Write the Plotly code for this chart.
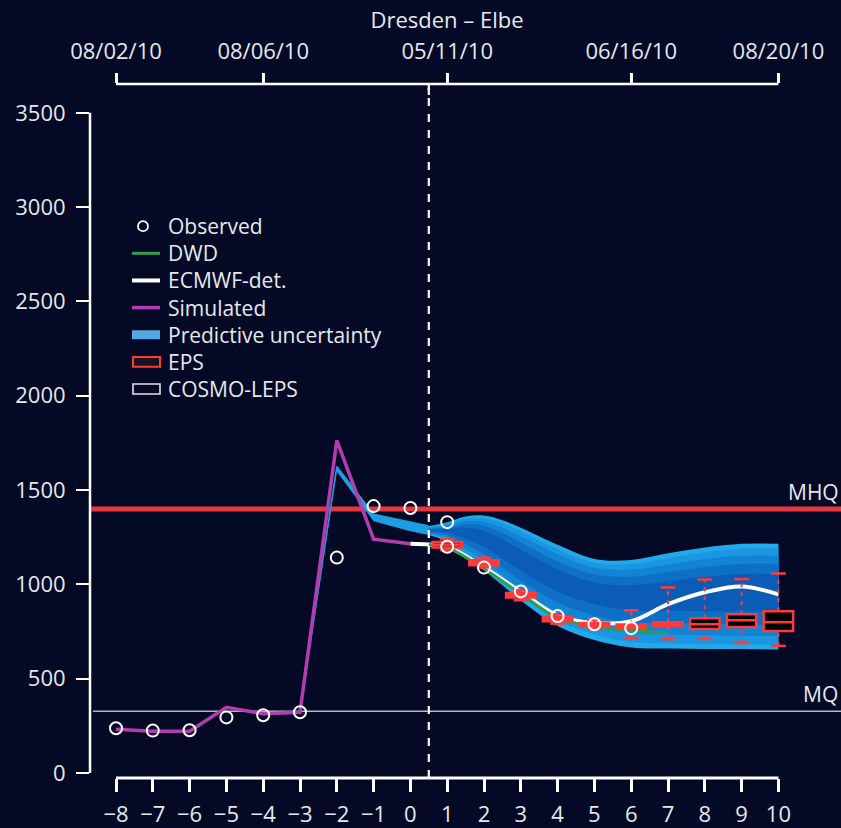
import plotly.graph_objects as go

# ---------------- data ----------------
obs_x = [-8, -7, -6, -5, -4, -3, -2, -1, 0, 1, 1, 2, 3, 4, 5, 6]
obs_y = [237, 225, 227, 295, 306, 322, 1142, 1415, 1405, 1330, 1200, 1089, 963, 832, 789, 768]

sim_x = [-8, -7, -6, -5, -4, -3, -2, -1, 0]
sim_y = [232, 222, 222, 348, 314, 322, 1763, 1240, 1216]

ecmwf_x = [0, 0.5, 1, 2, 3, 4, 5, 6, 7, 8, 9, 10]
ecmwf_y = [1216, 1212, 1200, 1090, 960, 835, 795, 805, 895, 958, 989, 947]

dwd_x = [0.5, 1, 2, 3, 4, 5, 6, 7]
dwd_y = [1210, 1195, 1083, 950, 822, 776, 756, 744]

# hindcast predictive uncertainty (thin strip)
hind_x = [-3, -2, -1, 0, 0.5]
hind_up = [326, 1625, 1372, 1330, 1310]
hind_lo = [316, 1598, 1335, 1282, 1262]

# forecast predictive uncertainty, nested bands (outer -> inner)
fc_x = [0.5, 1, 1.5, 2, 2.5, 3, 4, 5, 6, 7, 8, 9, 10]
band1_up = [1310, 1330, 1360, 1365, 1340, 1300, 1210, 1135, 1130, 1165, 1195, 1215, 1215]
band1_lo = [1262, 1225, 1150, 1075, 995, 915, 780, 705, 665, 660, 658, 658, 655]
band2_up = [1304, 1322, 1350, 1352, 1325, 1282, 1188, 1115, 1108, 1140, 1170, 1190, 1190]
band2_lo = [1266, 1238, 1168, 1095, 1018, 940, 808, 735, 695, 688, 684, 682, 680]
band3_up = [1298, 1312, 1335, 1332, 1300, 1255, 1160, 1088, 1078, 1105, 1135, 1152, 1152]
band3_lo = [1270, 1250, 1190, 1125, 1050, 975, 850, 780, 742, 735, 730, 728, 725]
band4_up = [1294, 1302, 1318, 1310, 1272, 1222, 1122, 1052, 1040, 1065, 1092, 1108, 1108]
band4_lo = [1276, 1262, 1215, 1160, 1090, 1020, 905, 835, 800, 795, 790, 788, 785]
band5_up = [1290, 1294, 1300, 1285, 1240, 1185, 1080, 1010, 995, 1015, 1040, 1055, 1055]
band5_lo = [1282, 1274, 1242, 1198, 1135, 1072, 962, 895, 862, 860, 858, 858, 855]

# EPS boxplots
eps_days = [1, 2, 3, 4, 5, 6, 7, 8, 9, 10]
eps_q1 = [1195, 1102, 930, 805, 776, 770, 780, 763, 774, 753]
eps_med = [1210, 1115, 942, 816, 785, 778, 789, 789, 810, 800]
eps_q3 = [1225, 1128, 955, 828, 796, 788, 800, 821, 842, 858]
eps_lo = [1182, 1090, 916, 792, 762, 716, 710, 711, 689, 674]
eps_hi = [1240, 1142, 970, 842, 812, 863, 984, 1026, 1028, 1058]

MHQ = 1400
MQ = 327

bottom_ticks = list(range(-8, 11))
top_tickvals = [-8, -4, 1, 6, 10]
top_ticktext = ["08/02/10", "08/06/10", "05/11/10", "06/16/10", "08/20/10"]
y_ticks = [0, 500, 1000, 1500, 2000, 2500, 3000, 3500]
forecast_start = 0.5

legend_labels = ["Observed", "DWD", "ECMWF-det.", "Simulated", "Predictive uncertainty", "EPS", "COSMO-LEPS"]

# ---------------- style ----------------
BG = "#040a26"
TXT = "#e6e8ee"
FONT = "Open Sans"
FS = 22
LFS = 21
band_colors = ["#22a9ea", "#1a97e0", "#1383d4", "#0e6fc6", "#0b5cb6"]
C_SIM = "#b33cae"
C_DWD = "#2f9e52"
C_EPS = "#ff3a3a"
C_BAND_LEG = "#55a6e2"

W, H = 841, 828
ML, MR, MT, MB = 90, 0, 84, 46
X_RANGE = [-8 - 26 / 36.8, -8 + (W - 116) / 36.8]
PXY = 664 / 3500.0
Y_RANGE = [(777 - (H - MB)) / PXY, (777 - MT) / PXY]
PH = H - MT - MB
PW = W - ML - MR


def py(p):
    return (H - MB - p) / PH


def pxx(p):
    return (p - ML) / PW


fig = go.Figure()

# forecast bands
bands = [(band1_up, band1_lo), (band2_up, band2_lo), (band3_up, band3_lo),
         (band4_up, band4_lo), (band5_up, band5_lo)]
for i, (up, lo) in enumerate(bands):
    fig.add_trace(go.Scatter(x=fc_x, y=lo, mode="lines", line=dict(width=0, shape="spline"),
                             showlegend=False, hoverinfo="skip"))
    fig.add_trace(go.Scatter(x=fc_x, y=up, mode="lines", line=dict(width=0, shape="spline"),
                             fill="tonexty", fillcolor=band_colors[i],
                             showlegend=False, hoverinfo="skip"))

# hindcast strip
fig.add_trace(go.Scatter(x=hind_x, y=hind_lo, mode="lines", line=dict(width=0),
                         showlegend=False, hoverinfo="skip"))
fig.add_trace(go.Scatter(x=hind_x, y=hind_up, mode="lines", line=dict(width=1.5, color="#1e9ee0"),
                         fill="tonexty", fillcolor="#1e9ee0", showlegend=False, hoverinfo="skip"))

# simulated
fig.add_trace(go.Scatter(x=sim_x, y=sim_y, mode="lines", name="Simulated",
                         line=dict(color=C_SIM, width=3.5), showlegend=False))
# ECMWF deterministic
fig.add_trace(go.Scatter(x=ecmwf_x, y=ecmwf_y, mode="lines", name="ECMWF-det.",
                         line=dict(color="#ffffff", width=4, shape="spline"), showlegend=False))
# DWD
fig.add_trace(go.Scatter(x=dwd_x, y=dwd_y, mode="lines", name="DWD",
                         line=dict(color=C_DWD, width=3, shape="spline"), showlegend=False))

# EPS whiskers (dashed) and caps
wx, wy, cx, cy = [], [], [], []
for d, q1, q3, lo, hi in zip(eps_days, eps_q1, eps_q3, eps_lo, eps_hi):
    wx += [d, d, None, d, d, None]
    wy += [q3, hi, None, lo, q1, None]
    cx += [d - 0.2, d + 0.2, None, d - 0.2, d + 0.2, None]
    cy += [hi, hi, None, lo, lo, None]
fig.add_trace(go.Scatter(x=wx, y=wy, mode="lines", line=dict(color=C_EPS, width=2, dash="4px,5px"),
                         showlegend=False, hoverinfo="skip", zorder=1))
fig.add_trace(go.Scatter(x=cx, y=cy, mode="lines", line=dict(color=C_EPS, width=2.5),
                         showlegend=False, hoverinfo="skip", zorder=1))
fig.add_trace(go.Box(x=eps_days, q1=eps_q1, median=eps_med, q3=eps_q3,
                     lowerfence=eps_q1, upperfence=eps_q3, width=0.8, whiskerwidth=0,
                     line=dict(color=C_EPS, width=2.5), fillcolor="#000000",
                     name="EPS", showlegend=False, hoverinfo="skip", zorder=2))

# observed
fig.add_trace(go.Scatter(x=obs_x, y=obs_y, mode="markers", name="Observed",
                         marker=dict(symbol="circle-open", size=12, color="#ffffff",
                                     line=dict(width=2, color="#ffffff")), showlegend=False, zorder=3))

# top axis dummy trace
fig.add_trace(go.Scatter(x=[X_RANGE[0]], y=[None], xaxis="x2", showlegend=False, hoverinfo="skip"))

shapes = [
    # MHQ and MQ
    dict(type="line", xref="paper", x0=0, x1=1, yref="y", y0=MHQ, y1=MHQ,
         line=dict(color="#e8363d", width=5), layer="below"),
    dict(type="line", xref="paper", x0=0.004, x1=1, yref="y", y0=MQ, y1=MQ,
         line=dict(color="#b4b8c6", width=1.5), layer="below"),
    # left axis line
    dict(type="line", xref="paper", x0=0, x1=0, yref="y", y0=y_ticks[0], y1=y_ticks[-1],
         line=dict(color="#ffffff", width=2.5), layer="above"),
    # bottom axis line
    dict(type="line", xref="x", x0=bottom_ticks[0], x1=bottom_ticks[-1], yref="paper", y0=0, y1=0,
         line=dict(color="#ffffff", width=3), layer="above"),
    # top axis line
    dict(type="line", xref="x", x0=top_tickvals[0], x1=top_tickvals[-1], yref="paper", y0=1, y1=1,
         line=dict(color="#ffffff", width=2.5), layer="above"),
    # forecast start marker
    dict(type="line", xref="x", x0=forecast_start, x1=forecast_start, yref="paper", y0=0, y1=1 - 4 / PH,
         line=dict(color="#ffffff", width=2.2, dash="8px,8px"), layer="above"),
    dict(type="line", xref="x", x0=forecast_start, x1=forecast_start, yref="paper", y0=1 - 11 / PH, y1=1,
         line=dict(color="#ffffff", width=2.2), layer="above"),
]

annotations = [
    dict(text="MHQ", xref="paper", x=1, xanchor="right", xshift=-1, yref="y", y=MHQ, yanchor="bottom",
         yshift=2, showarrow=False, borderpad=0, font=dict(family=FONT, size=21, color=TXT)),
    dict(text="MQ", xref="paper", x=1, xanchor="right", xshift=-2, yref="y", y=MQ, yanchor="bottom",
         yshift=2, showarrow=False, borderpad=0, font=dict(family=FONT, size=21, color=TXT)),
]

# ---- manual legend ----
LEG_X0, LEG_X1, LEG_TX = 132, 160, 167
row_y = [227 + 27.3 * i for i in range(len(legend_labels))]
for lab, ry in zip(legend_labels, row_y):
    annotations.append(dict(text=lab, xref="paper", x=pxx(LEG_TX), xanchor="left",
                            yref="paper", y=py(ry), yanchor="middle", showarrow=False, borderpad=0,
                            font=dict(family=FONT, size=LFS, color=TXT)))
# symbols
shapes.append(dict(type="circle", xref="paper", yref="paper",
                   x0=pxx(138), x1=pxx(148), y0=py(row_y[0] + 5), y1=py(row_y[0] - 5),
                   line=dict(color="#ffffff", width=1.8), fillcolor=BG, layer="above"))
for idx, col, wdt in [(1, C_DWD, 3), (2, "#ffffff", 4), (3, C_SIM, 3.5)]:
    shapes.append(dict(type="line", xref="paper", yref="paper", x0=pxx(LEG_X0), x1=pxx(LEG_X1),
                       y0=py(row_y[idx]), y1=py(row_y[idx]), line=dict(color=col, width=wdt),
                       layer="above"))
shapes.append(dict(type="rect", xref="paper", yref="paper", x0=pxx(LEG_X0), x1=pxx(LEG_X1),
                   y0=py(row_y[4] + 4.5), y1=py(row_y[4] - 4.5), line=dict(width=0),
                   fillcolor=C_BAND_LEG, layer="above"))
shapes.append(dict(type="rect", xref="paper", yref="paper", x0=pxx(LEG_X0 + 1), x1=pxx(LEG_X1),
                   y0=py(row_y[5] + 5), y1=py(row_y[5] - 5), line=dict(color=C_EPS, width=2),
                   fillcolor="#1a1020", layer="above"))
shapes.append(dict(type="rect", xref="paper", yref="paper", x0=pxx(LEG_X0 + 1), x1=pxx(LEG_X1),
                   y0=py(row_y[6] + 5), y1=py(row_y[6] - 5), line=dict(color="#dfe3ea", width=1.6),
                   fillcolor=BG, layer="above"))

fig.update_layout(
    width=W, height=H,
    margin=dict(l=ML, r=MR, t=MT, b=MB),
    paper_bgcolor=BG, plot_bgcolor=BG,
    font=dict(family=FONT, size=FS, color=TXT),
    title=dict(text="Dresden – Elbe", x=447 / W, xanchor="center", y=1 - 20 / H, yanchor="middle",
               font=dict(family=FONT, size=FS, color=TXT)),
    showlegend=False,
    xaxis=dict(range=X_RANGE, tickvals=bottom_ticks, ticks="outside", ticklen=13, tickwidth=2.5,
               tickcolor="#ffffff", showgrid=False, zeroline=False, showline=False,
               tickfont=dict(family=FONT, size=FS, color=TXT), ticklabelstandoff=4, fixedrange=True),
    xaxis2=dict(range=X_RANGE, overlaying="x", side="top", tickvals=top_tickvals, ticktext=top_ticktext,
                ticks="outside", ticklen=10, tickwidth=2.5, tickcolor="#ffffff", showgrid=False,
                zeroline=False, showline=False, tickfont=dict(family=FONT, size=FS, color=TXT),
                ticklabelstandoff=5),
    yaxis=dict(range=Y_RANGE, tickvals=y_ticks, ticks="outside", ticklen=13, tickwidth=2,
               tickcolor="#ffffff", showgrid=False, zeroline=False, showline=False,
               tickfont=dict(family=FONT, size=FS, color=TXT), ticklabelstandoff=6),
    shapes=shapes,
    annotations=annotations,
)

fig.write_html("out.html", config={"displayModeBar": False},
               post_script="document.body.style.margin='0';document.body.style.overflow='hidden';")
